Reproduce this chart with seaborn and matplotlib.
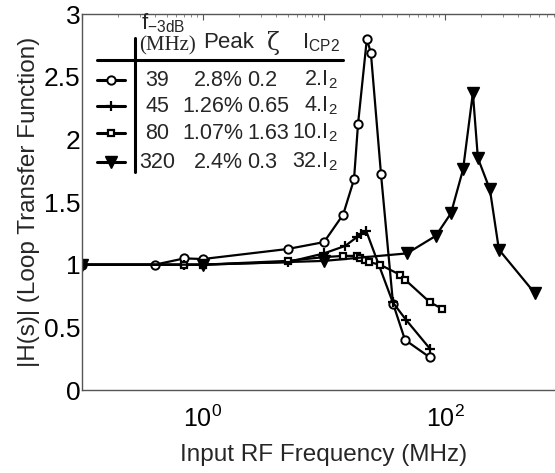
import numpy as np
import pandas as pd
import matplotlib
matplotlib.use("Agg")
import matplotlib.pyplot as plt
from matplotlib.lines import Line2D
from matplotlib.ticker import FixedLocator, FixedFormatter, LogLocator, NullFormatter
import seaborn as sns

# ---- data ----
f39_x = [0.1, 0.4, 0.7, 1.0, 5.0, 10.0, 14.4, 17.7, 19.1, 22.6, 24.4, 29.6, 37.2, 46.7, 75.0]
f39_y = [1.0, 1.0, 1.05, 1.045, 1.125, 1.18, 1.40, 1.68, 2.12, 2.80, 2.69, 1.72, 0.69, 0.40, 0.26]

f45_x = [0.1, 0.7, 1.0, 5.0, 10.0, 15.0, 18.7, 20.2, 22.3, 37.0, 47.6, 75.0]
f45_y = [1.0, 1.0, 1.0, 1.02, 1.09, 1.15, 1.22, 1.245, 1.27, 0.70, 0.56, 0.33]

f80_x = [0.1, 0.7, 1.0, 5.0, 10.0, 14.3, 18.8, 20.0, 21.8, 23.6, 29.0, 42.4, 46.8, 75.0, 94.0]
f80_y = [1.0, 1.0, 1.0, 1.03, 1.06, 1.07, 1.07, 1.05, 1.04, 1.02, 1.0, 0.92, 0.88, 0.70, 0.65]

f320_x = [0.1, 1.0, 10.0, 48.5, 84.0, 112.0, 141.0, 170.0, 187.0, 235.0, 279.0, 555.0]
f320_y = [1.0, 1.0, 1.03, 1.09, 1.23, 1.41, 1.76, 2.37, 1.85, 1.60, 1.12, 0.77]

legend_f3db = ["39", "45", "80", "320"]
legend_peak = ["2.8%", "1.26%", "1.07%", "2.4%"]
legend_zeta = ["0.2", "0.65", "1.63", "0.3"]
legend_icp = ["2", "4", "10", "32"]

y_ticks = [0, 0.5, 1, 1.5, 2, 2.5, 3]
y_ticklabels = ["0", "0.5", "1", "1.5", "2", "2.5", "3"]
x_ticks = [0.1, 1, 10, 100, 1000]
x_ticklabels = ["", "$10^0$", "", "$10^2$", ""]

# ---- style ----
sns.set_style("white")
plt.rcParams["font.family"] = ["Liberation Sans", "DejaVu Sans"]
plt.rcParams["mathtext.fontset"] = "custom"
plt.rcParams["mathtext.rm"] = "Liberation Sans"
plt.rcParams["mathtext.it"] = "Liberation Sans:italic"
plt.rcParams["mathtext.bf"] = "Liberation Sans:bold"

W, H = 555, 473
fig = plt.figure(figsize=(W / 100, H / 100), dpi=100)
L, R, T, B = 82, 566, 14, 390
ax = fig.add_axes([L / W, 1 - B / H, (R - L) / W, (B - T) / H])

series = [
    (f39_x, f39_y, dict(marker="o", markersize=6, markerfacecolor="white", markeredgecolor="black", markeredgewidth=1.4)),
    (f45_x, f45_y, dict(marker="+", markersize=7, markeredgecolor="black", markeredgewidth=1.6)),
    (f80_x, f80_y, dict(marker="s", markersize=5, markerfacecolor="white", markeredgecolor="black", markeredgewidth=1.6)),
    (f320_x, f320_y, dict(marker="v", markersize=8, markerfacecolor="black", markeredgecolor="black", markeredgewidth=1.0)),
]
for xs, ys, mk in series:
    df = pd.DataFrame({"x": xs, "y": ys})
    sns.lineplot(data=df, x="x", y="y", ax=ax, color="black", linewidth=1.6,
                 sort=False, estimator=None, **mk)

ax.set_xscale("log")
ax.set_xlim(0.1, 1000)
ax.set_ylim(0, 3)
ax.xaxis.set_major_locator(FixedLocator(x_ticks))
ax.xaxis.set_major_formatter(FixedFormatter(x_ticklabels))
ax.xaxis.set_minor_locator(LogLocator(base=10, subs=np.arange(2, 10), numticks=20))
ax.xaxis.set_minor_formatter(NullFormatter())
ax.set_yticks(y_ticks)
ax.set_yticklabels(y_ticklabels)
ax.tick_params(axis="both", which="major", direction="in", length=4, width=0.8,
               pad=2, top=True, right=True, colors="#555555", labelcolor="black")
ax.tick_params(axis="y", which="major", labelsize=19, pad=1)
ax.tick_params(axis="x", which="major", labelsize=18, pad=11)
ax.tick_params(axis="x", which="minor", direction="in", length=2, width=0.6,
               top=True, colors="#777777")
for sp in ax.spines.values():
    sp.set_color("#555555")
    sp.set_linewidth(1.0)

ax.set_xlabel("Input RF Frequency (MHz)", fontsize=17.5, labelpad=9)
ax.set_ylabel("|H(s)| (Loop Transfer Function)", fontsize=17.5, labelpad=3)

# ---- table-style legend (pixel coordinates of the figure) ----
def fx(px):
    return px / W

def fy(py):
    return 1 - py / H

tr = fig.transFigure
fig.add_artist(Line2D([fx(97), fx(343)], [fy(60), fy(60)], transform=tr, color="black", linewidth=2.2))
fig.add_artist(Line2D([fx(135), fx(135)], [fy(38), fy(172)], transform=tr, color="black", linewidth=2.2))

fig.text(fx(141), fy(23), "f$_{\\mathregular{-3dB}}$", fontsize=16, va="center", ha="left")
fig.text(fx(139), fy(46), "(MHz)", fontsize=15, va="center", ha="left", family=["Liberation Serif", "DejaVu Serif"])
fig.text(fx(203), fy(43), "Peak", fontsize=16, va="center", ha="left")
fig.text(fx(273), fy(43), "ζ", fontsize=17, va="center", ha="center", family=["DejaVu Serif"])
fig.text(fx(302), fy(43), "I$_{\\mathregular{CP2}}$", fontsize=16, va="center", ha="left")

row_y = [80, 106, 133, 162]
for i, (_, _, mk) in enumerate(series):
    y = row_y[i]
    fig.add_artist(Line2D([fx(97), fx(125)], [fy(y), fy(y)], transform=tr, color="black",
                          linewidth=2.2))
    fig.add_artist(Line2D([fx(111)], [fy(y)], transform=tr, color="black", linestyle="none", **mk))
    fig.text(fx(157), fy(y), legend_f3db[i], fontsize=15.5, va="center", ha="center")
    fig.text(fx(243), fy(y), legend_peak[i], fontsize=15.5, va="center", ha="right")
    fig.text(fx(247), fy(y), legend_zeta[i], fontsize=15.5, va="center", ha="left")
    fig.text(fx(338), fy(y), legend_icp[i] + ".I$_2$", fontsize=15.5, va="center", ha="right")

fig.savefig("out.png", dpi=100)
